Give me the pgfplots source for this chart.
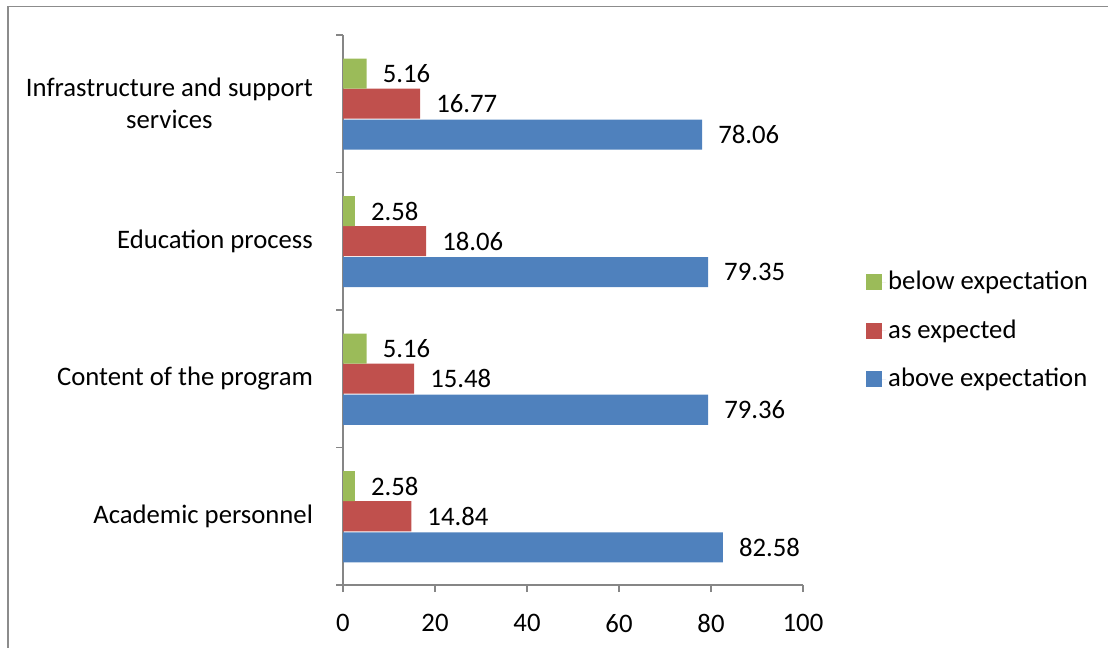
\documentclass[border=0pt]{standalone}
\usepackage{pgfplots}
\pgfplotsset{compat=1.18}
\usepackage{fontspec}
\setmainfont{Carlito}
\definecolor{above}{HTML}{4F81BD}
\definecolor{asexp}{HTML}{C0504D}
\definecolor{below}{HTML}{9BBB59}
\definecolor{axgray}{HTML}{868686}
\definecolor{framegray}{HTML}{8C8C8C}
\newcommand{\chartfont}{\fontsize{26.8}{32}\selectfont}
\begin{document}
\chartfont
\begin{tikzpicture}
\path[use as bounding box] (0,0) rectangle (1108bp,648bp);
\draw[framegray, line width=1.6bp] (8bp,0) -- (8bp,641.5bp) -- (1108bp,641.5bp);
\begin{axis}[
  at={(343bp,63bp)}, anchor=south west, scale only axis,
  width=460bp, height=550bp,
  xmin=0, xmax=100, ymin=-0.5, ymax=3.5,
  axis x line*=bottom, axis y line*=left,
  axis line style={axgray, line width=1.2bp},
  /pgf/number format/assume math mode=true,
  tick align=outside,
  major tick length=7bp,
  every tick/.style={axgray, line width=1.2bp},
  xtick={0,20,...,100},
  ytick={-0.5,0.5,1.5,2.5,3.5},
  yticklabels={},
  extra y ticks={0,1,2,3},
  extra y tick labels={Academic personnel, Content of the program, Education process, {Infrastructure and support\\services}},
  extra y tick style={major tick length=0pt, tick style={draw=none},
    yticklabel style={align=center, font=\chartfont, xshift=-21bp}},
  xticklabel style={font=\chartfont, yshift=-13bp},
  xbar, bar width=30bp,
  nodes near coords,
  nodes near coords align=horizontal,
  every node near coord/.append style={anchor=west, inner sep=0pt, xshift=16bp, font=\chartfont, black,
    /pgf/number format/.cd, fixed, fixed zerofill, precision=2, assume math mode=true},
  legend style={draw=none, fill=none, at={(1.137,0.462)}, anchor=west,
    font=\chartfont, row sep=22bp, inner sep=0pt},
  legend cell align=left,
  reverse legend,
  legend image code/.code={\fill[#1] (0bp,-8bp) rectangle (16bp,8bp); \path (0bp,0bp) -- (20bp,0bp);},
]
\addplot[fill=above, draw=none, bar shift=-31bp] coordinates {(82.58,0) (79.36,1) (79.35,2) (78.06,3)};
\addplot[fill=asexp, draw=none, bar shift=0bp] coordinates {(14.84,0) (15.48,1) (18.06,2) (16.77,3)};
\addplot[fill=below, draw=none, bar shift=30bp] coordinates {(2.58,0) (5.16,1) (2.58,2) (5.16,3)};
\legend{above expectation, as expected, below expectation}
\end{axis}
\end{tikzpicture}
\end{document}
